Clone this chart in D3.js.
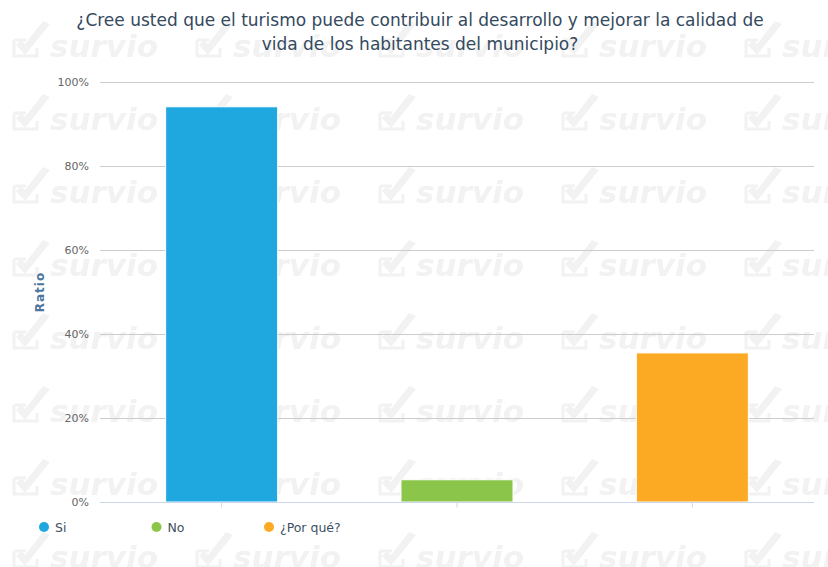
<!DOCTYPE html>
<html>
<head>
<meta charset="utf-8">
<script src="https://cdn.jsdelivr.net/npm/d3@7"></script>
<style>
  html, body { margin: 0; padding: 0; background: #ffffff; }
  svg { display: block; }
</style>
</head>
<body>
<svg id="chart_root" width="828" height="567"></svg>
<script>
// chart data
var categories = ["Si", "No", "¿Por qué?"];
var ratio_values = [94.1, 5.3, 35.5];
var bar_colours = ["#1fa8e0", "#8bc54a", "#fca924"];
var y_tick_values = [0, 20, 40, 60, 80, 100];
var title_lines = ["¿Cree usted que el turismo puede contribuir al desarrollo y mejorar la calidad de",
                   "vida de los habitantes del municipio?"];
var y_axis_title = "Ratio";

var total_width = 828, total_height = 567;
var plot_left = 100, plot_right = 814, plot_top = 82, plot_bottom = 502;
var watermark_colour = "#f2f2f2";

var svg = d3.select("#chart_root");

// watermark tiles, drawn behind everything
var defs = svg.append("defs");
var tile = defs.append("pattern")
    .attr("id", "survio_tile")
    .attr("patternUnits", "userSpaceOnUse")
    .attr("x", 12).attr("y", 7)
    .attr("width", 183).attr("height", 73);
tile.append("path")
    .attr("d", "M2,33 V49 H25 V41 M2,33 H14")
    .attr("fill", "none")
    .attr("stroke", watermark_colour)
    .attr("stroke-width", 3);
tile.append("path")
    .attr("d", "M4,38 L13,48 L38,17 L31,14 L13,37 L9,33 Z")
    .attr("fill", watermark_colour);
tile.append("text")
    .attr("x", 38).attr("y", 50)
    .attr("font-family", "'DejaVu Sans', sans-serif")
    .attr("font-weight", "bold")
    .attr("font-style", "italic")
    .attr("font-size", 31)
    .attr("fill", watermark_colour)
    .text("survio");
svg.append("rect")
    .attr("width", total_width).attr("height", total_height)
    .attr("fill", "url(#survio_tile)");

// title
svg.append("g").selectAll("text")
    .data(title_lines)
    .enter()
    .append("text")
    .attr("x", 420)
    .attr("y", function(d, i) { return 26 + i * 24; })
    .attr("text-anchor", "middle")
    .attr("font-family", "'DejaVu Sans', sans-serif")
    .attr("font-size", 17)
    .attr("fill", "#34495e")
    .text(function(d) { return d; });

// scales
var x = d3.scaleBand()
    .domain(categories)
    .range([104, 810])
    .paddingInner(0.524)
    .paddingOuter(0.262);

var y = d3.scaleLinear()
    .domain([0, 100])
    .range([plot_bottom, plot_top]);

// grid lines
svg.append("g")
    .selectAll("line")
    .data(y_tick_values.filter(function(d) { return d > 0; }))
    .enter()
    .append("line")
    .attr("x1", plot_left).attr("x2", plot_right)
    .attr("y1", function(d) { return Math.round(y(d)) + 0.5; })
    .attr("y2", function(d) { return Math.round(y(d)) + 0.5; })
    .attr("stroke", "#cccccc")
    .attr("stroke-width", 1);

// y axis labels
var y_axis = svg.append("g")
    .attr("class", "y-axis")
    .attr("transform", "translate(" + plot_left + ",0)")
    .call(d3.axisLeft(y)
        .tickValues(y_tick_values)
        .tickSize(0)
        .tickPadding(11)
        .tickFormat(function(d) { return d + "%"; }));
y_axis.select(".domain").remove();
y_axis.selectAll(".tick text")
    .attr("font-family", "'DejaVu Sans', sans-serif")
    .attr("font-size", 11)
    .attr("fill", "#666666");

// y axis title
svg.append("text")
    .attr("transform", "translate(44," + ((plot_top + plot_bottom) / 2) + ") rotate(-90)")
    .attr("text-anchor", "middle")
    .attr("font-family", "'DejaVu Sans', sans-serif")
    .attr("font-weight", "bold")
    .attr("font-size", 12)
    .attr("letter-spacing", 1)
    .attr("fill", "#4d759e")
    .text(y_axis_title);

// bars
svg.append("g")
    .selectAll("rect")
    .data(ratio_values)
    .enter()
    .append("rect")
    .attr("x", function(d, i) { return x(categories[i]); })
    .attr("y", function(d) { return y(d); })
    .attr("width", x.bandwidth())
    .attr("height", function(d) { return plot_bottom - y(d); })
    .attr("fill", function(d, i) { return bar_colours[i]; })
    .attr("stroke", "#ffffff")
    .attr("stroke-width", 1);

// x axis
var x_axis = svg.append("g")
    .attr("class", "x-axis")
    .attr("transform", "translate(0," + (plot_bottom + 0.5) + ")")
    .call(d3.axisBottom(x).tickSize(5).tickSizeOuter(0).tickFormat(""));
x_axis.select(".domain")
    .attr("d", "M" + plot_left + ",0H" + plot_right)
    .attr("stroke", "#ccd6eb");
x_axis.selectAll(".tick line")
    .attr("stroke", "#ccd6eb");

// legend
var legend = svg.append("g")
    .selectAll("g")
    .data(categories)
    .enter()
    .append("g")
    .attr("transform", function(d, i) { return "translate(" + (44 + i * 112.5) + ",527)"; });
legend.append("circle")
    .attr("r", 5)
    .attr("fill", function(d, i) { return bar_colours[i]; });
legend.append("text")
    .attr("x", 11)
    .attr("y", 4.5)
    .attr("font-family", "'DejaVu Sans', sans-serif")
    .attr("font-size", 12.5)
    .attr("fill", "#3e4f61")
    .text(function(d) { return d; });
</script>
</body>
</html>
